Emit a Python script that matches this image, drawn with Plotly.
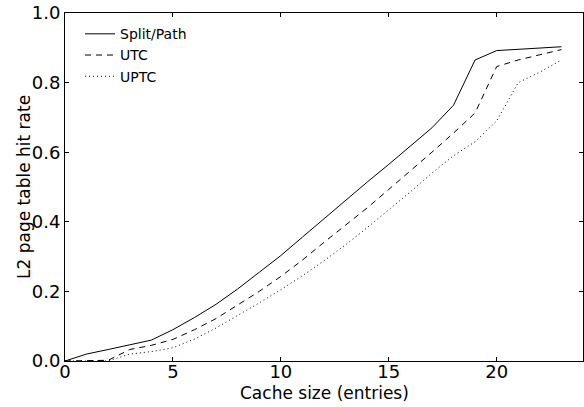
import plotly.graph_objects as go

cache_size = list(range(0, 24))
split_path = [0.0, 0.02, 0.033, 0.046, 0.06, 0.09, 0.125, 0.163, 0.207, 0.255, 0.303,
              0.356, 0.409, 0.461, 0.514, 0.565, 0.617, 0.67, 0.735, 0.865, 0.892,
              0.896, 0.9, 0.903]
utc = [0.0, 0.0, 0.002, 0.033, 0.045, 0.062, 0.09, 0.122, 0.16, 0.2, 0.243,
       0.29, 0.341, 0.39, 0.44, 0.493, 0.546, 0.6, 0.655, 0.713, 0.846,
       0.865, 0.88, 0.895]
uptc = [0.0, 0.0, 0.0, 0.02, 0.027, 0.038, 0.063, 0.095, 0.13, 0.167, 0.205,
        0.245, 0.288, 0.334, 0.383, 0.434, 0.486, 0.54, 0.59, 0.63, 0.69,
        0.8, 0.83, 0.865]

x_ticks = [0, 5, 10, 15, 20]
y_ticks = [0.0, 0.2, 0.4, 0.6, 0.8, 1.0]
y_tick_labels = ["0.0", "0.2", "0.4", "0.6", "0.8", "1.0"]
x_title = "Cache size (entries)"
y_title = "L2 page table hit rate"

fig = go.Figure()
fig.add_trace(go.Scatter(x=cache_size, y=split_path, mode="lines", name="Split/Path",
                         line=dict(color="black", width=1)))
fig.add_trace(go.Scatter(x=cache_size, y=utc, mode="lines", name="UTC",
                         line=dict(color="black", width=1, dash="6px,5px")))
fig.add_trace(go.Scatter(x=cache_size, y=uptc, mode="lines", name="UPTC",
                         line=dict(color="black", width=1, dash="1px,3px")))

font_family = "DejaVu Sans"
fig.update_layout(
    width=584, height=407,
    margin=dict(l=65, r=1, t=13, b=46, autoexpand=False),
    paper_bgcolor="white", plot_bgcolor="white",
    font=dict(family=font_family, color="black"),
    showlegend=True,
    legend=dict(x=0.029, y=0.985, xanchor="left", yanchor="top",
                bgcolor="rgba(0,0,0,0)", borderwidth=0,
                font=dict(size=14, family=font_family), tracegroupgap=0),
    xaxis=dict(range=[0, 24], tickvals=x_ticks, ticks="inside", ticklen=4,
               tickcolor="black", showline=True, linecolor="black", linewidth=1,
               mirror="allticks", showgrid=False, zeroline=False, automargin=False,
               tickfont=dict(size=18), ticklabeloverflow="allow",
               ticklabelstandoff=-6),
    yaxis=dict(range=[0, 1.0], tickvals=y_ticks, ticktext=y_tick_labels,
               ticks="inside", ticklen=4, tickcolor="black", showline=True,
               linecolor="black", linewidth=1, mirror="allticks", showgrid=False,
               zeroline=False, automargin=False, tickfont=dict(size=18),
               ticklabeloverflow="allow"),
    annotations=[
        dict(text=x_title, xref="paper", yref="paper", x=0.5, y=0,
             xanchor="center", yanchor="middle", yshift=-32, showarrow=False,
             font=dict(size=17)),
        dict(text=y_title, xref="paper", yref="paper", x=0, y=0.5,
             xanchor="center", yanchor="middle", xshift=-41, textangle=-90,
             showarrow=False, font=dict(size=17)),
    ],
)

# remove the default 8px page margin so the figure fills the window exactly
fig.write_html("out.html", config={"displayModeBar": False},
               post_script="document.body.style.margin='0';")
